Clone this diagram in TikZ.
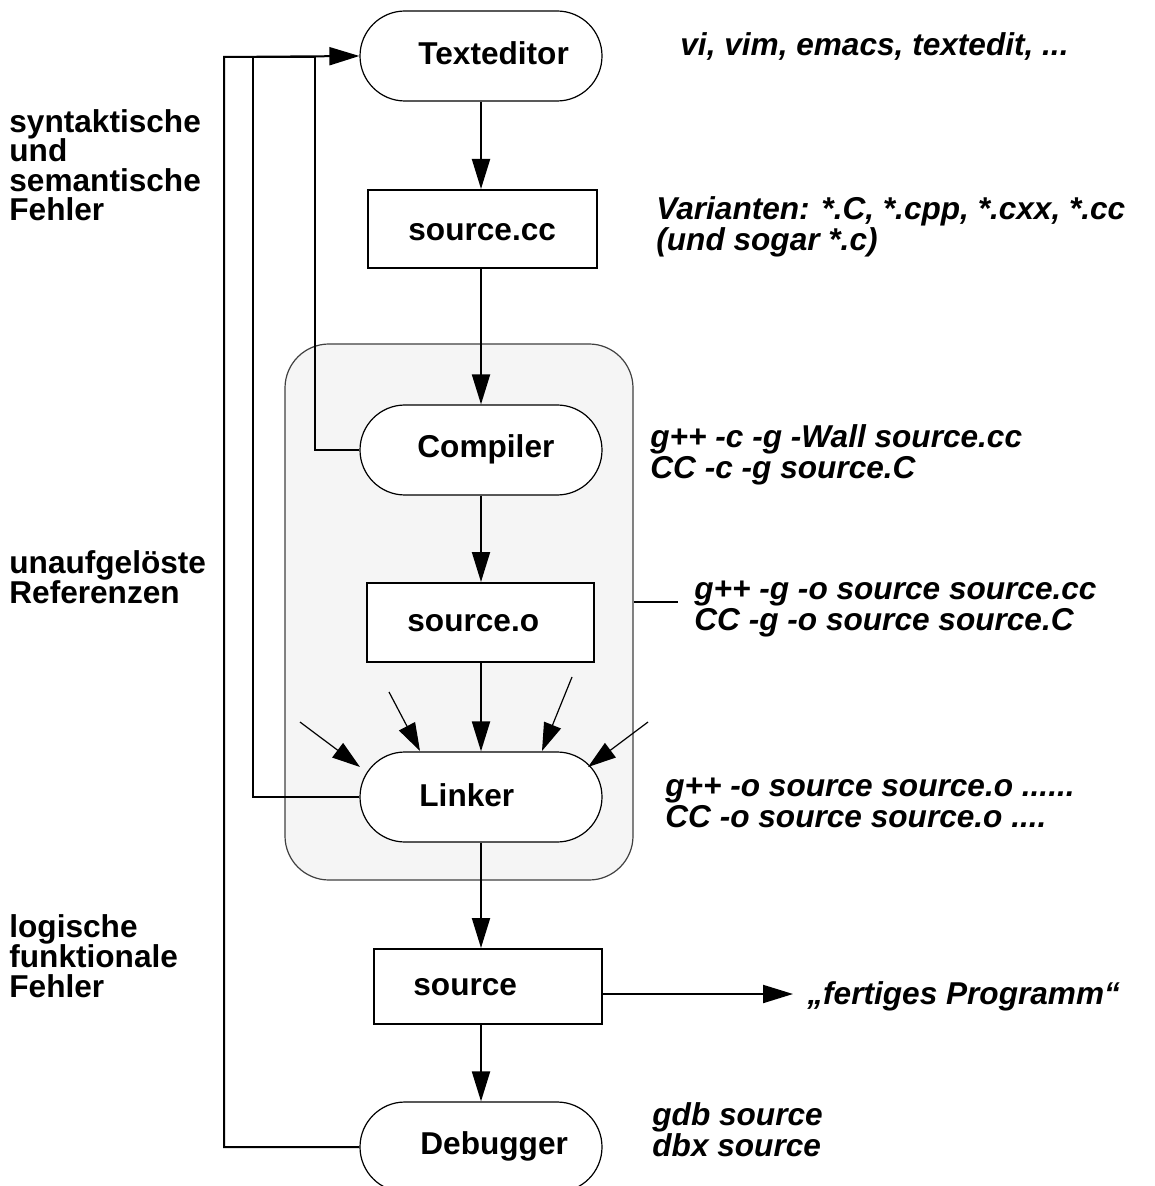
\documentclass[tikz,border=0pt]{standalone}
\usepackage{fontspec}
\setmainfont{Liberation Sans}
\usetikzlibrary{arrows.meta}

\begin{document}
\begin{tikzpicture}[x=0.5pt,y=-0.5pt,
  font=\fontsize{15.8}{15.5}\selectfont\bfseries,
  stadium/.style={draw, line width=0.6pt, rounded corners=22.5pt,
    minimum width=121pt, minimum height=45pt, inner sep=0pt, fill=white},
  filebox/.style={draw, line width=1pt, fill=white, inner sep=0pt},
  group/.style={draw=black!75, fill=black!4, line width=0.6pt,
    rounded corners=22pt, inner sep=0pt},
  lbl/.style={anchor=base west, inner sep=0pt},
  note/.style={anchor=base west, inner sep=0pt, align=left,
    font=\fontsize{15.8}{15.5}\selectfont\bfseries\itshape},
  side/.style={anchor=base west, inner sep=0pt, align=left,
    font=\fontsize{15.8}{14.8}\selectfont\bfseries},
  wire/.style={line width=1pt},
  flow/.style={line width=1pt, -{Triangle[length=15pt,width=9pt]}},
  thin flow/.style={line width=0.6pt, -{Triangle[length=14pt,width=9pt]}},
  ]
\useasboundingbox (0,0) rectangle (1154,1186);

% compile/link group
\node[group, minimum width=174pt, minimum height=268pt] (grp) at (459,612) {};

% tools and files
\node[stadium] (te)   at (481,56)  {};
\node[filebox, minimum width=114.5pt, minimum height=39pt] (cc) at (482.5,229) {};
\node[stadium] (comp) at (481,450) {};
\node[filebox, minimum width=113.5pt, minimum height=39.5pt] (obj) at (480.5,622.5) {};
\node[stadium] (link) at (481,797) {};
\node[filebox, minimum width=114pt, minimum height=37.5pt] (src) at (488,986.5) {};
\node[stadium] (dbg)  at (481,1147) {};

\node[lbl] (te-t)   at (418,65)   {Texteditor};
\node[lbl] (cc-t)   at (408,241)  {source.cc};
\node[lbl] (comp-t) at (417,458)  {Compiler};
\node[lbl] (obj-t)  at (407,631)  {source.o};
\node[lbl] (link-t) at (419,806)  {Linker};
\node[lbl] (src-t)  at (413,995)  {source};
\node[lbl] (dbg-t)  at (420,1154) {Debugger};

% main flow
\draw[flow] (te.south) -- (te.south |- cc.north);
\draw[flow] (te.south |- cc.south) -- (te.south |- comp.north);
\draw[flow] (comp.south) -- (comp.south |- obj.north);
\draw[flow] (comp.south |- obj.south) -- (link.north);
\draw[flow] (link.south) -- (link.south |- src.north);
\draw[flow] (link.south |- src.south) -- (dbg.north);

% further inputs of the linker
\coordinate (in1) at (300,722); \coordinate (at1) at (360,767);
\coordinate (in2) at (389,692); \coordinate (at2) at (420,751);
\coordinate (in3) at (572,677); \coordinate (at3) at (542,751);
\coordinate (in4) at (648,722); \coordinate (at4) at (588,767);
\draw[thin flow] (in1) -- (at1);
\draw[thin flow] (in2) -- (at2);
\draw[thin flow] (in3) -- (at3);
\draw[thin flow] (in4) -- (at4);

% feedback loops back to the editor
\coordinate (fb1) at (224,57);
\coordinate (fb2) at (253,57);
\coordinate (fb3) at (315,57);
\draw[flow] (dbg.west) -| (fb1) -- (te.west);
\draw[wire] (link.west) -| (fb2) -- (fb3);
\draw[wire] (comp.west) -| (fb3);

% finished program
\coordinate (fp) at (793,994);
\draw[flow] (src.east |- fp) -- (fp);
\node[note] (fp-t) at (807,1004) {„fertiges Programm“};

% marker of the combined compile+link call
\coordinate (tick) at (678,602);
\draw[line width=0.8pt] (grp.east |- tick) -- (tick);

% commands (anchored at the baseline of the last line)
\node[note] (n-ed)  at (680,56)  {vi, vim, emacs, textedit, ...};
\node[note] (n-cc)  at (656,251) {Varianten: *.C, *.cpp, *.cxx, *.cc\\(und sogar *.c)};
\node[note] (n-cmp) at (650,479) {g++ -c -g -Wall source.cc\\CC -c -g source.C};
\node[note] (n-all) at (694,630) {g++ -g -o source source.cc\\CC -g -o source source.C};
\node[note] (n-lnk) at (665,827) {g++ -o source source.o ......\\CC -o source source.o ....};
\node[note] (n-dbg) at (652,1156) {gdb source\\dbx source};

% kinds of errors
\node[side] (e-syn) at (9,221) {syntaktische\\und\\semantische\\Fehler};
\node[side] (e-ref) at (9,603) {unaufgelöste\\Referenzen};
\node[side] (e-log) at (9,997) {logische\\funktionale\\Fehler};
\end{tikzpicture}
\end{document}
